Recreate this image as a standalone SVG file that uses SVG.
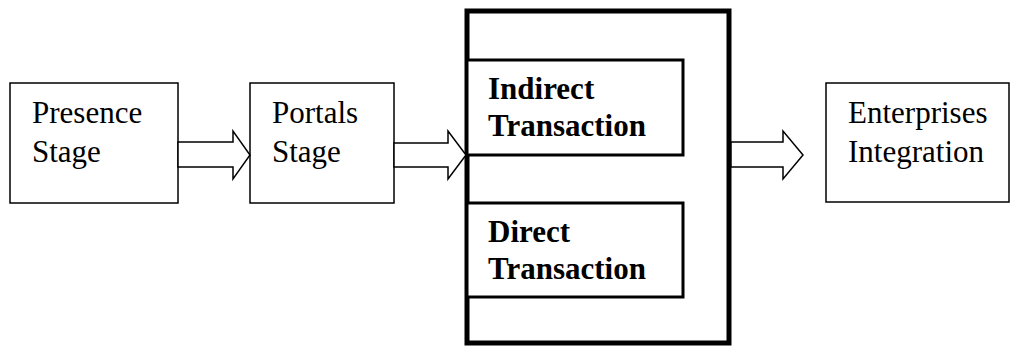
<svg xmlns="http://www.w3.org/2000/svg" width="1011" height="347" viewBox="0 0 1011 347">
<style>
.box{fill:#fff;stroke:#000;stroke-width:1.5}
.big{fill:#fff;stroke:#000;stroke-width:5}
.inner{fill:#fff;stroke:#000;stroke-width:3}
.t{font-family:"Liberation Serif","Times New Roman",serif;font-size:31px;fill:#000}
.b{font-weight:bold}
.arrow{fill:#fff;stroke:#000;stroke-width:1.5;stroke-linejoin:miter}
</style>
<rect width="1011" height="347" fill="#fff"/>
<g id="presence">
<rect class="box" x="10" y="83" width="168" height="120"/>
<text class="t" x="32" y="123">Presence</text>
<text class="t" x="32" y="162">Stage</text>
</g>
<g id="portals">
<rect class="box" x="250" y="83" width="144" height="120"/>
<text class="t" x="272" y="123">Portals</text>
<text class="t" x="272" y="162">Stage</text>
</g>
<g id="transaction">
<rect class="big" x="467" y="11" width="262" height="332"/>
<g id="indirect">
<rect class="inner" x="467" y="60" width="216" height="95"/>
<text class="t b" x="488" y="99">Indirect</text>
<text class="t b" x="488" y="136">Transaction</text>
</g>
<g id="direct">
<rect class="inner" x="467" y="203" width="216" height="94"/>
<text class="t b" x="488" y="242">Direct</text>
<text class="t b" x="488" y="279">Transaction</text>
</g>
</g>
<g id="enterprises">
<rect class="box" x="826" y="83" width="183" height="119"/>
<text class="t" x="848" y="123">Enterprises</text>
<text class="t" x="848" y="162">Integration</text>
</g>
<g id="connectors">
<polygon class="arrow" points="178,142 233,142 233,131 250,155 233,179 233,167 178,167"/>
<polygon class="arrow" points="394,143 448,143 448,131 466,155 448,179 448,167 394,167"/>
<polygon class="arrow" points="731,142 783,142 783,131 803,155 783,179 783,167 731,167"/>
</g>
</svg>
